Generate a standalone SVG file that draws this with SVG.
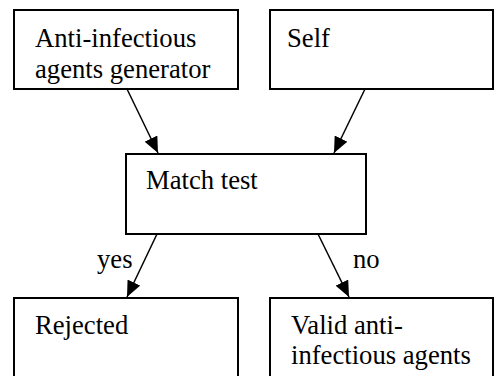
<svg xmlns="http://www.w3.org/2000/svg" width="494" height="376" viewBox="0 0 494 376">
<defs>
<style>
.box{fill:#fff;stroke:#000;stroke-width:2}
.c{stroke:#000;stroke-width:1.5;fill:none}
.t{font-family:"Liberation Serif","Times New Roman",serif;font-size:26.67px;fill:#000}
</style>
<marker id="ah" markerUnits="userSpaceOnUse" markerWidth="16" markerHeight="14" refX="16" refY="7" orient="auto" viewBox="0 0 16 14">
<path d="M0,0 L16,7 L0,14 Z" fill="#000"/>
</marker>
</defs>
<rect width="494" height="376" fill="#fff"/>
<g id="connectors">
<line class="c" x1="127" y1="89" x2="158" y2="153" marker-end="url(#ah)"/>
<line class="c" x1="365" y1="89" x2="334" y2="153" marker-end="url(#ah)"/>
<line class="c" x1="157" y1="234" x2="127" y2="297" marker-end="url(#ah)"/>
<line class="c" x1="318" y1="234" x2="349" y2="297" marker-end="url(#ah)"/>
<text class="t" x="97" y="268">yes</text>
<text class="t" x="353" y="268">no</text>
</g>
<g id="generator">
<rect class="box" x="14" y="10" width="224" height="79"/>
<text class="t" x="35" y="47">Anti-infectious</text>
<text class="t" x="35" y="78">agents generator</text>
</g>
<g id="self">
<rect class="box" x="270" y="10" width="223" height="79"/>
<text class="t" x="287" y="47">Self</text>
</g>
<g id="match">
<rect class="box" x="126" y="154" width="240" height="80"/>
<text class="t" x="146" y="189">Match test</text>
</g>
<g id="rejected">
<rect class="box" x="14" y="298" width="224" height="100"/>
<text class="t" x="35" y="334">Rejected</text>
</g>
<g id="valid">
<rect class="box" x="270" y="298" width="223" height="100"/>
<text class="t" x="291" y="334">Valid anti-</text>
<text class="t" x="291" y="364">infectious agents</text>
</g>
</svg>
